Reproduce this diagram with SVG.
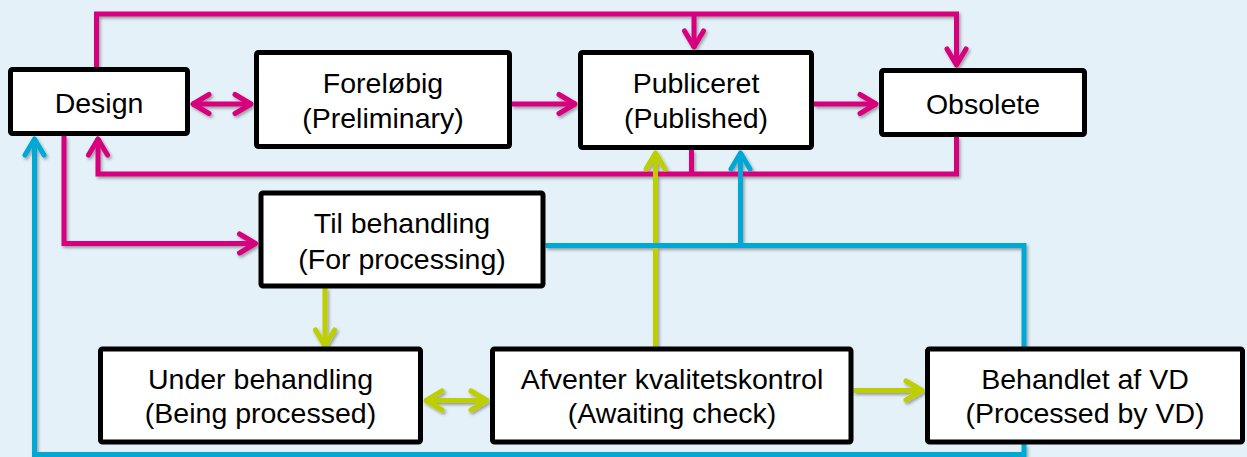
<svg xmlns="http://www.w3.org/2000/svg" width="1247" height="457" viewBox="0 0 1247 457">
<style>
.box{fill:#fff;stroke:#000;stroke-width:5}
.t{font-family:"Liberation Sans",Arial,sans-serif;font-size:28.5px;fill:#000;text-anchor:middle}
.c{fill:none;stroke-width:5;stroke-linejoin:miter}
.p{stroke:#D6007E}
.b{stroke:#00A8D6}
.g{stroke:#BDCF00}
</style>
<defs>
<filter id="sh" filterUnits="userSpaceOnUse" x="0" y="0" width="1247" height="457">
<feDropShadow dx="1.5" dy="2" stdDeviation="1.5" flood-color="#000" flood-opacity="0.35"/>
</filter>
<marker id="ap" markerUnits="userSpaceOnUse" viewBox="-24 -15 28 30" markerWidth="28" markerHeight="30" refX="0" refY="0" orient="auto-start-reverse">
<path d="M-17,-9.5 L-1,0 L-17,9.5" fill="none" stroke="#D6007E" stroke-width="5" stroke-linecap="round" stroke-linejoin="round"/>
</marker>
<marker id="ab" markerUnits="userSpaceOnUse" viewBox="-24 -15 28 30" markerWidth="28" markerHeight="30" refX="0" refY="0" orient="auto-start-reverse">
<path d="M-17,-9.5 L-1,0 L-17,9.5" fill="none" stroke="#00A8D6" stroke-width="5" stroke-linecap="round" stroke-linejoin="round"/>
</marker>
<marker id="ag" markerUnits="userSpaceOnUse" viewBox="-24 -15 28 30" markerWidth="28" markerHeight="30" refX="0" refY="0" orient="auto-start-reverse">
<path d="M-17,-9.5 L-1,0 L-17,9.5" fill="none" stroke="#BDCF00" stroke-width="5" stroke-linecap="round" stroke-linejoin="round"/>
</marker>
</defs>
<rect width="1247" height="457" fill="#E4F1F8"/>
<g id="connectors" filter="url(#sh)">
<path class="c p" d="M96.5,67 V14 H956.5 V66" marker-end="url(#ap)"/>
<path class="c p" d="M694,14 V48" marker-end="url(#ap)"/>
<path class="c p" d="M192,104 H252" marker-start="url(#ap)" marker-end="url(#ap)"/>
<path class="c p" d="M512,104 H576" marker-end="url(#ap)"/>
<path class="c p" d="M814,104 H877" marker-end="url(#ap)"/>
<path class="c p" d="M956.5,137 V174 H98 V138" marker-end="url(#ap)"/>
<path class="c p" d="M691.5,150 V174"/>
<path class="c p" d="M64,136 V243.5 H256.5" marker-end="url(#ap)"/>
<path class="c g" d="M325,288 V347" marker-end="url(#ag)"/>
<path class="c g" d="M425,400.5 H488" marker-start="url(#ag)" marker-end="url(#ag)"/>
<path class="c g" d="M853.5,390.5 H923" marker-end="url(#ag)"/>
<path class="c g" d="M655.5,347 V152" marker-end="url(#ag)"/>
<path class="c b" d="M1024,347 V245.5 H545.5"/>
<path class="c b" d="M740.5,245.5 V152" marker-end="url(#ab)"/>
<path class="c b" d="M1024,444 V454.5 H34.5 V138" marker-end="url(#ab)"/>
</g>
<g id="design"><rect class="box" x="10.5" y="69.5" width="177" height="64" rx="2"/><text class="t" x="99" y="112.7">Design</text></g>
<g id="forelobig"><rect class="box" x="256.5" y="52.5" width="253" height="94" rx="2"/><text class="t" x="383" y="92.7">Foreløbig</text><text class="t" x="383" y="128.3">(Preliminary)</text></g>
<g id="publiceret"><rect class="box" x="580.5" y="52.5" width="231" height="95" rx="2"/><text class="t" x="696" y="92.7">Publiceret</text><text class="t" x="696" y="128.3">(Published)</text></g>
<g id="obsolete"><rect class="box" x="881.5" y="70.5" width="203" height="64" rx="2"/><text class="t" x="983" y="113.5">Obsolete</text></g>
<g id="til-behandling"><rect class="box" x="261" y="193" width="282" height="93" rx="2"/><text class="t" x="402" y="233.3">Til behandling</text><text class="t" x="402" y="268.5">(For processing)</text></g>
<g id="under-behandling"><rect class="box" x="100.5" y="349" width="320" height="93" rx="2"/><text class="t" x="260.5" y="389">Under behandling</text><text class="t" x="260.5" y="422.7">(Being processed)</text></g>
<g id="afventer"><rect class="box" x="492.5" y="349" width="358.5" height="93" rx="2"/><text class="t" x="672" y="389">Afventer kvalitetskontrol</text><text class="t" x="672" y="422.7">(Awaiting check)</text></g>
<g id="behandlet"><rect class="box" x="927.5" y="349" width="315" height="93" rx="2"/><text class="t" x="1085" y="389">Behandlet af VD</text><text class="t" x="1085" y="422.7">(Processed by VD)</text></g>
</svg>
